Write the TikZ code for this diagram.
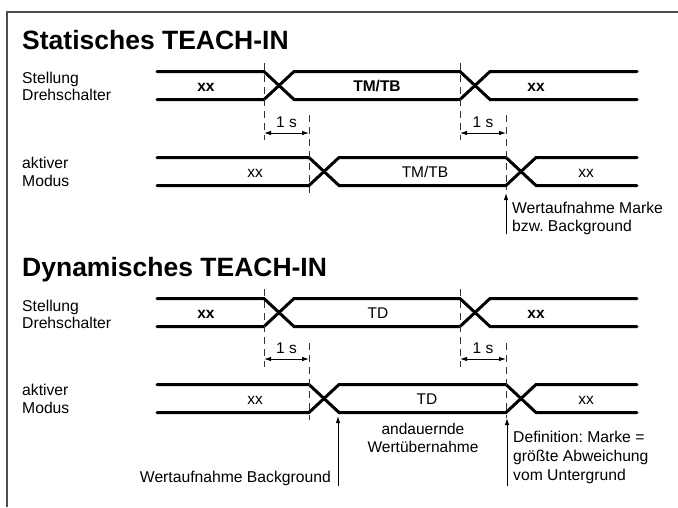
\documentclass[tikz,border=0pt]{standalone}
\usepackage{fontspec}
\setmainfont{Liberation Sans}
\usetikzlibrary{arrows.meta}
\frenchspacing
\begin{document}
\begin{tikzpicture}[x=1pt,y=-1pt,
  lbl/.style={font=\fontsize{15.7}{18}\selectfont, inner sep=0pt, anchor=base west},
  ttl/.style={font=\fontsize{26.5}{30}\selectfont\bfseries, inner sep=0pt, anchor=base west},
  sig/.style={font=\fontsize{15.5}{18}\selectfont, inner sep=0pt, anchor=base},
  sigb/.style={sig, font=\fontsize{15.5}{18}\selectfont\bfseries},
  bus/.style={line width=3pt, line join=miter, line cap=round},
  guide/.style={line width=0.9pt, dash pattern=on 7pt off 5pt, black!80},
  dim/.style={line width=0.9pt, {Latex[length=7pt,width=4.5pt]}-{Latex[length=7pt,width=4.5pt]}},
  note/.style={line width=0.9pt, -{Latex[length=7pt,width=4.5pt]}},
  frame/.style={line width=1.6pt, black!70}]
\useasboundingbox (0,0) rectangle (678,507);
% frame
\draw[frame] (7,507) -- (7,12) -- (678,12);

% ---------- Static ----------
\node[ttl] (t1) at (22,49) {Statisches TEACH-IN};
\node[lbl] (s1a) at (22,83) {Stellung};
\node[lbl] (s1b) at (22,100.5) {Drehschalter};
\node[lbl] (s2a) at (22,168.5) {aktiver};
\node[lbl] (s2b) at (22,186) {Modus};

% row 1
\draw[bus] (157,71.5) -- (264,71.5) -- (294,99.5) -- (460,99.5) -- (490,71.5) -- (637,71.5);
\draw[bus] (157,99.5) -- (264,99.5) -- (294,71.5) -- (460,71.5) -- (490,99.5) -- (637,99.5);
\node[sigb] (r1a) at (206,91) {xx};
\node[sigb] (r1b) at (377,91) {TM/TB};
\node[sigb] (r1c) at (536,91) {xx};
% row 2
\draw[bus] (157,157.5) -- (309,157.5) -- (339,185.5) -- (506,185.5) -- (536,157.5) -- (637,157.5);
\draw[bus] (157,185.5) -- (309,185.5) -- (339,157.5) -- (506,157.5) -- (536,185.5) -- (637,185.5);
\node[sig] (r2a) at (255,177) {xx};
\node[sig] (r2b) at (425,177) {TM/TB};
\node[sig] (r2c) at (586,177) {xx};

% guides
\coordinate (g1t) at (264,63);  \coordinate (g1b) at (264,140);
\coordinate (g2t) at (309,115); \coordinate (g2b) at (309,193);
\coordinate (g3t) at (460,63);  \coordinate (g3b) at (460,140);
\coordinate (g4t) at (506,115); \coordinate (g4b) at (506,190);
\draw[guide] (g1t) -- (g1b);
\draw[guide] (g2t) -- (g2b);
\draw[guide] (g3t) -- (g3b);
\draw[guide] (g4t) -- (g4b);
\coordinate (d1l) at (264,133); \coordinate (d1r) at (309,133);
\coordinate (d2l) at (460,133); \coordinate (d2r) at (506,133);
\draw[dim] (d1l) -- (d1r);
\draw[dim] (d2l) -- (d2r);
\node[sig] (o1) at (286.5,127) {1 s};
\node[sig] (o2) at (483,127) {1 s};

% annotation
\coordinate (a1b) at (506,234); \coordinate (a1t) at (506,193);
\draw[note] (a1b) -- (a1t);
\node[lbl] (n1a) at (512,213) {Wertaufnahme Marke};
\node[lbl] (n1b) at (512,231) {bzw. Background};

% ---------- Dynamic ----------
\node[ttl] (t2) at (22,276.5) {Dynamisches TEACH-IN};
\node[lbl] (d1a) at (22,311) {Stellung};
\node[lbl] (d1b) at (22,328.5) {Drehschalter};
\node[lbl] (d2a) at (22,395.5) {aktiver};
\node[lbl] (d2b) at (22,413) {Modus};

% row 1
\draw[bus] (157,298.5) -- (264,298.5) -- (294,326.5) -- (460,326.5) -- (490,298.5) -- (637,298.5);
\draw[bus] (157,326.5) -- (264,326.5) -- (294,298.5) -- (460,298.5) -- (490,326.5) -- (637,326.5);
\node[sigb] (q1a) at (206,318) {xx};
\node[sig]  (q1b) at (378,318) {TD};
\node[sigb] (q1c) at (536,318) {xx};
% row 2
\draw[bus] (157,384.5) -- (309,384.5) -- (339,412.5) -- (506,412.5) -- (536,384.5) -- (637,384.5);
\draw[bus] (157,412.5) -- (309,412.5) -- (339,384.5) -- (506,384.5) -- (536,412.5) -- (637,412.5);
\node[sig] (q2a) at (255,404) {xx};
\node[sig] (q2b) at (427,404) {TD};
\node[sig] (q2c) at (586,404) {xx};

% guides
\coordinate (h1t) at (264,289); \coordinate (h1b) at (264,367);
\coordinate (h2t) at (309,343); \coordinate (h2b) at (309,420);
\coordinate (h3t) at (460,289); \coordinate (h3b) at (460,367);
\coordinate (h4t) at (506,343); \coordinate (h4b) at (506,418);
\draw[guide] (h1t) -- (h1b);
\draw[guide] (h2t) -- (h2b);
\draw[guide] (h3t) -- (h3b);
\draw[guide] (h4t) -- (h4b);
\coordinate (e1l) at (264,359); \coordinate (e1r) at (309,359);
\coordinate (e2l) at (460,359); \coordinate (e2r) at (506,359);
\draw[dim] (e1l) -- (e1r);
\draw[dim] (e2l) -- (e2r);
\node[sig] (p1) at (286.5,353) {1 s};
\node[sig] (p2) at (483,353) {1 s};

% annotations
\coordinate (b1b) at (338,486); \coordinate (b1t) at (338,416);
\coordinate (b2b) at (507,486); \coordinate (b2t) at (507,418);
\draw[note] (b1b) -- (b1t);
\draw[note] (b2b) -- (b2t);
\node[lbl, anchor=base east] (m1) at (331,482) {Wertaufnahme Background};
\node[sig] (m2a) at (423,434) {andauernde};
\node[sig] (m2b) at (423,452) {Wertübernahme};
\node[lbl] (m3a) at (513,442) {Definition: Marke =};
\node[lbl] (m3b) at (513,461) {größte Abweichung};
\node[lbl] (m3c) at (513,480) {vom Untergrund};
\end{tikzpicture}
\end{document}
